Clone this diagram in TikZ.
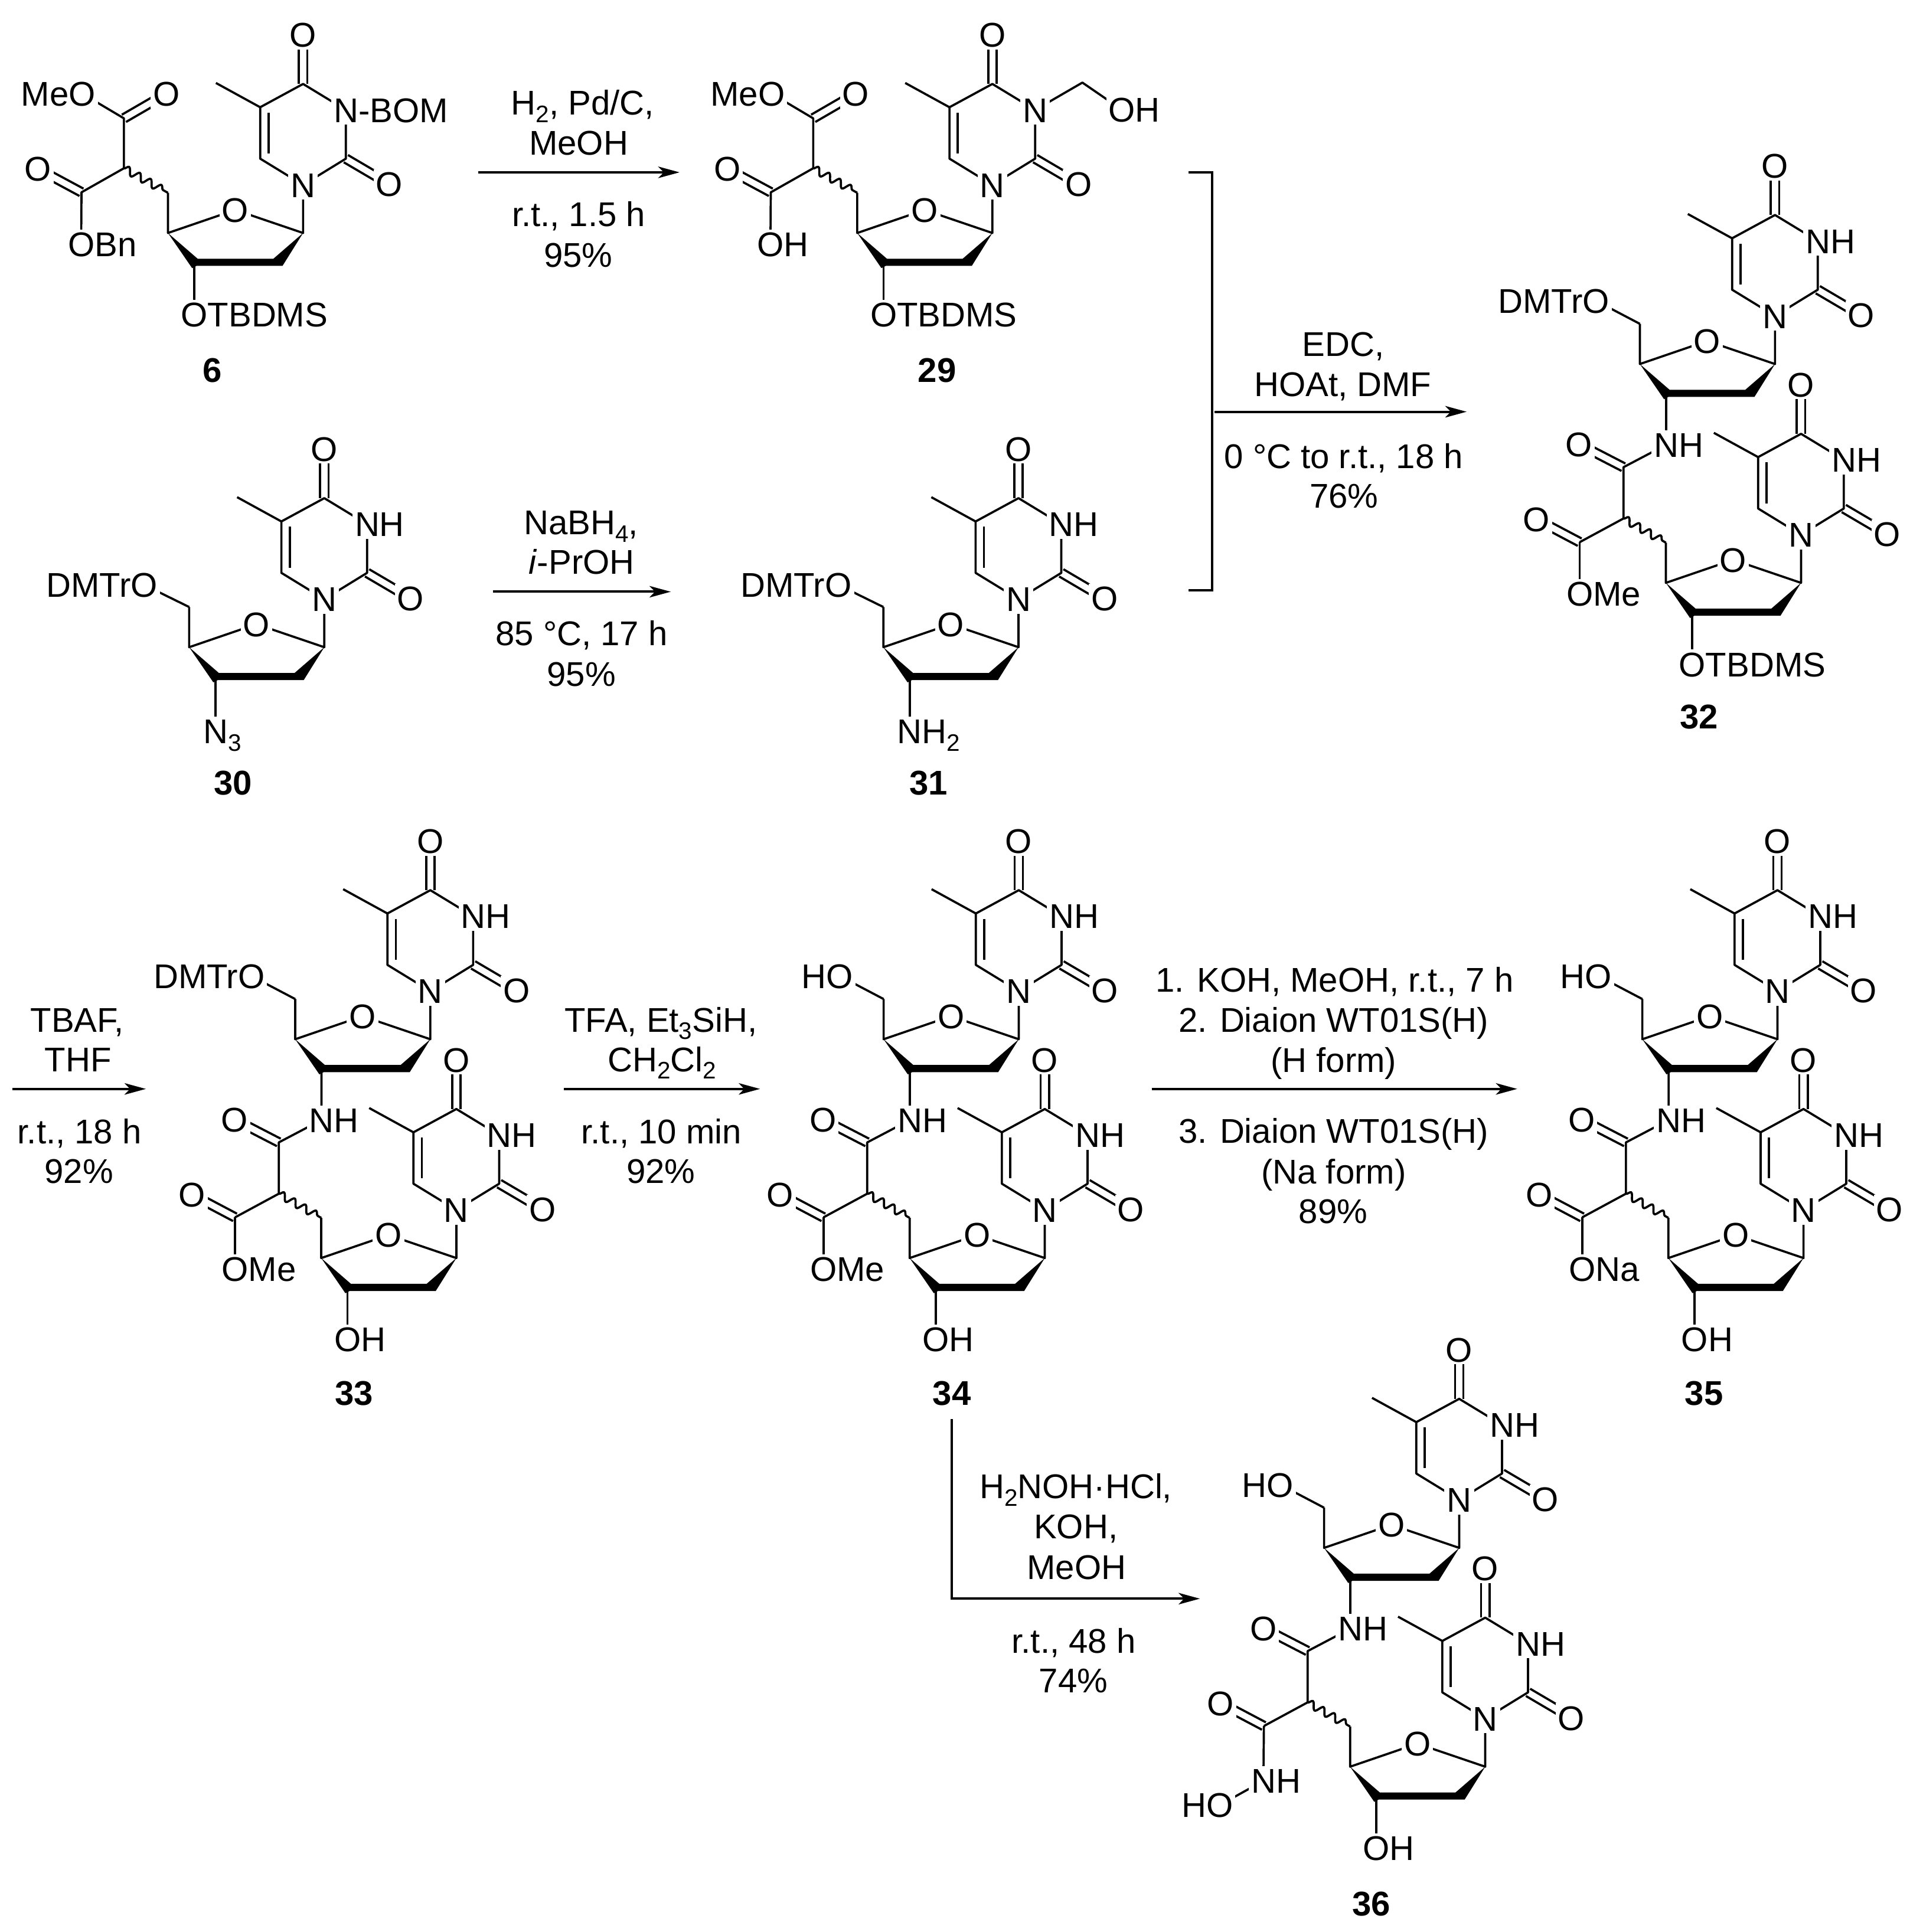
\documentclass[tikz,border=0pt]{standalone}
\usepackage{fontspec}
\setmainfont{Liberation Sans}
\usetikzlibrary{calc,arrows.meta,decorations.pathmorphing}
\newcommand{\sbs}[1]{\smash{\raisebox{-0.22em}{\fontsize{11}{13}\selectfont #1}}}
\tikzset{
 bond/.style={line width=1pt,line join=round},
 wavy/.style={line width=1pt,decorate,decoration={snake,amplitude=0.06cm,segment length=0.2cm,pre length=0pt,post length=0pt}},
 atom/.style={font=\fontsize{15.8}{19}\selectfont,fill=white,inner sep=1.1pt,text height=11.3pt,text depth=0pt},
 rx/.style={font=\fontsize{15.8}{19}\selectfont,inner sep=0pt,text height=11.3pt,text depth=0pt},
 num/.style={font=\fontsize{15.8}{19}\selectfont\bfseries,inner sep=0pt,text height=11.3pt,text depth=0pt},
 rxn/.style={line width=1.1pt,line join=miter,-{Stealth[length=0.345cm,width=0.186cm,inset=0.09cm]}},
 brk/.style={line width=1.1pt,line join=miter},
}
\newcommand{\dbl}[2]{%
 \draw[bond] ($(#1)!0.068cm!90:(#2)$) -- ($(#2)!0.068cm!-90:(#1)$);
 \draw[bond] ($(#1)!0.068cm!-90:(#2)$) -- ($(#2)!0.068cm!90:(#1)$);}
% thymidine unit, N1 at the local origin
\newcommand{\nucl}{%
 \coordinate (n1) at (0,0); \coordinate (c2) at (34.7,-21.3); \coordinate (n3) at (34.7,-60.8);
 \coordinate (c4) at (0,-81.9); \coordinate (o4) at (0,-121.8); \coordinate (c5) at (-34.8,-63);
 \coordinate (me) at (-70.7,-82.7); \coordinate (c6) at (-34.8,-21.3); \coordinate (o2) at (69.9,-0.6);
 \coordinate (c1p) at (0,39); \coordinate (orr) at (-55,20.3); \coordinate (c4p) at (-109.6,39);
 \coordinate (c5p) at (-109.6,6.4); \coordinate (c3p) at (-88.3,65);
 \draw[bond] (n1)--(c2)--(n3)--(c4)--(c5)--(c6)--(n1);
 \draw[bond] (c5)--(me);
 \draw[bond] ($(c5)+(6.8,4.3)$)--($(c6)+(6.8,-4.3)$);
 \dbl{c4}{o4}\dbl{c2}{o2}
 \draw[bond] (n1)--(c1p)--(orr)--(c4p)--(c5p);
 \fill (c4p)--(-85.5,59.9)--(-24.1,59.9)--(c1p)--(-16.7,65.7)--(-86.5,65.7)--(-90,67.5)--cycle;
 \node[atom] (lo4) at (o4) {O};
 \node[atom] (lo2) at (o2) {O};
 \node[atom] (lor) at (orr) {O};
 \node[atom] (ln1) at (n1) {N};
}
\newcommand{\nh}{\node[atom,anchor=west] (ln3) at ($(n3)+(-12.2,0)$) {NH};}
% dimer core: upper unit at origin, lower unit shifted
\newcommand{\dimer}[2]{% #1 = 5' label text, #2 = lower-unit 3' text
 \begin{scope}[name prefix=u-]\nucl\nh\end{scope}
 \begin{scope}[shift={(21.1,177.5)},name prefix=d-]\nucl\nh
  \draw[bond] (c3p)--(-88.3,105);
  \node[atom,anchor=west] (l3p) at (-101.3,105) {#2};
 \end{scope}
 \coordinate (ofive) at (-145,-12.2); \coordinate (nhc) at (-88.3,104.5); \coordinate (cam) at (-122.9,122.7);
 \coordinate (oam) at (-158.9,104.1); \coordinate (cal) at (-122.9,164.3); \coordinate (cest) at (-158.4,183.5);
 \coordinate (oest) at (-193.4,165);
 \draw[bond] (u-c5p)--(ofive);
 \draw[bond] (u-c3p)--(nhc)--(cam)--(cal)--(cest);
 \dbl{cam}{oam}\dbl{cest}{oest}
 \draw[wavy] (cal)--(d-c5p);
 \node[atom,anchor=east] (l5p) at ($(ofive)+(13,0)$) {#1};
 \node[atom] (loam) at (oam) {O};
 \node[atom] (loest) at (oest) {O};
 \node[atom,anchor=west] (lnh) at ($(nhc)+(-12.2,0)$) {NH};
}
\newcommand{\esterlab}[1]{%
 \coordinate (oo) at (-158.4,225.5);
 \draw[bond] (cest)--(oo);
 \node[atom,anchor=west] (lest) at ($(oo)+(-13,0)$) {#1};}
% malonate-bearing monomer (6, 29)
\newcommand{\malon}[1]{%
 \nucl
 \coordinate (cal) at (-145.3,-13.5); \coordinate (cup) at (-145.3,-54); \coordinate (oup) at (-110.8,-74);
 \coordinate (ome) at (-179,-74); \coordinate (clo) at (-179.7,6); \coordinate (olo) at (-215,-13);
 \coordinate (obn) at (-180,48); \coordinate (o3p) at (-88.3,105);
 \draw[bond] (c3p)--(o3p);
 \draw[bond] (ome)--(cup)--(cal)--(clo)--(obn);
 \dbl{cup}{oup}\dbl{clo}{olo}
 \draw[wavy] (cal)--(c5p);
 \node[atom] (loup) at (oup) {O};
 \node[atom] (lolo) at (olo) {O};
 \node[atom,anchor=east] (lome) at ($(ome)+(13,0)$) {MeO};
 \node[atom,anchor=west] (lobn) at ($(obn)+(-13,0)$) {#1};
 \node[atom,anchor=west] (lo3p) at ($(o3p)+(-13,0)$) {OTBDMS};
}
% azide/amine monomer (30, 31)
\newcommand{\monom}{%
 \nucl\nh
 \coordinate (ofive) at (-146,-11.5); \coordinate (x3) at (-88.3,107);
 \draw[bond] (c5p)--(ofive);
 \draw[bond] (c3p)--(x3);
 \node[atom,anchor=east] (l5p) at ($(ofive)+(13,0)$) {DMTrO};
}
\begin{document}
\begin{tikzpicture}[x=0.01996cm,y=-0.01996cm]
\useasboundingbox (0,0) rectangle (1559.1,1567.2);
% ---- molecules ----
\begin{scope}[shift={(245.8,150)},name prefix=m6-]
 \malon{OBn}
 \node[atom,anchor=west] (ln3) at ($(n3)+(-12.2,0)$) {N-BOM};
\end{scope}
\begin{scope}[shift={(804.8,150)},name prefix=m29-]
 \malon{OH}
 \coordinate (ch2) at (73,-83); \coordinate (oh) at (105,-61);
 \draw[bond] (n3)--(ch2)--(oh);
 \node[atom] (ln3) at (n3) {N};
 \node[atom,anchor=west] (loh) at ($(oh)+(-13,0)$) {OH};
\end{scope}
\begin{scope}[shift={(263,486)},name prefix=m30-]
 \monom
 \node[atom,anchor=west] (lx3) at ($(x3)+(-12.2,0)$) {N\sbs{3}};
\end{scope}
\begin{scope}[shift={(826,486)},name prefix=m31-]
 \monom
 \node[atom,anchor=west] (lx3) at ($(x3)+(-12.2,0)$) {NH\sbs{2}};
\end{scope}
\begin{scope}[shift={(1439.5,256.3)},name prefix=m32-]
 \dimer{DMTrO}{OTBDMS}\esterlab{OMe}
\end{scope}
\begin{scope}[shift={(349,804)},name prefix=m33-]
 \dimer{DMTrO}{OH}\esterlab{OMe}
\end{scope}
\begin{scope}[shift={(826.2,804)},name prefix=m34-]
 \dimer{HO}{OH}\esterlab{OMe}
\end{scope}
\begin{scope}[shift={(1441.5,804)},name prefix=m35-]
 \dimer{HO}{OH}\esterlab{ONa}
\end{scope}
\begin{scope}[shift={(1183.4,1216.6)},name prefix=m36-]
 \dimer{HO}{OH}
 \coordinate (nh2) at (-158.8,228); \coordinate (ho) at (-194.2,247.6);
 \draw[bond] (cest)--(nh2)--(ho);
 \node[atom,anchor=west] (lnh2) at ($(nh2)+(-12.2,0)$) {NH};
 \node[atom,anchor=east] (lho) at ($(ho)+(13,0)$) {HO};
\end{scope}
% ---- numbers ----
\node[num] (n6) at (172,300) {6};
\node[num] (n29) at (760,300) {29};
\node[num] (n30) at (189,635) {30};
\node[num] (n31) at (753,635) {31};
\node[num] (n32) at (1378,581) {32};
\node[num] (n33) at (287,1130) {33};
\node[num] (n34) at (772,1130) {34};
\node[num] (n35) at (1382,1130) {35};
\node[num] (n36) at (1112,1544) {36};
% ---- arrows ----
\coordinate (a1s) at (387.9,139.8); \coordinate (a1e) at (551.1,139.8);
\coordinate (a2s) at (399.8,480); \coordinate (a2e) at (544,480);
\coordinate (bt) at (964,139.8); \coordinate (btc) at (983.2,139.8); \coordinate (bbc) at (983.2,478.8); \coordinate (bb) at (964,478.8);
\coordinate (a3s) at (984.8,334); \coordinate (a3e) at (1189.4,334);
\coordinate (a4s) at (10,883.3); \coordinate (a4e) at (118.3,883.3);
\coordinate (a5s) at (457.3,883.3); \coordinate (a5e) at (616.4,883.3);
\coordinate (a6s) at (934,883.3); \coordinate (a6e) at (1230.4,883.3);
\coordinate (a7s) at (771.7,1151); \coordinate (a7c) at (771.7,1296.8); \coordinate (a7e) at (973.1,1296.8);
\draw[rxn] (a1s)--(a1e);
\draw[rxn] (a2s)--(a2e);
\draw[brk] (bt)--(btc)--(bbc)--(bb);
\draw[rxn] (a3s)--(a3e);
\draw[rxn] (a4s)--(a4e);
\draw[rxn] (a5s)--(a5e);
\draw[rxn] (a6s)--(a6e);
\draw[rxn] (a7s)--(a7c)--(a7e);
% ---- reaction texts ----
\node[rx] (t1a) at (472.4,83.2) {H\sbs{2}, Pd/C,};
\node[rx] (t1b) at (469.3,115.7) {MeOH};
\node[rx] (t1c) at (469.3,173.8) {r.t., 1.5 h};
\node[rx] (t1d) at (468.9,206.9) {95\%};
\node[rx] (t2a) at (471.3,423.5) {NaBH\sbs{4},};
\node[rx] (t2b) at (471.7,455.9) {\textit{i}-PrOH};
\node[rx] (t2c) at (471.7,513.8) {85 °C, 17 h};
\node[rx] (t2d) at (471.5,546.7) {95\%};
\node[rx] (t3a) at (1089.4,278.8) {EDC,};
\node[rx] (t3b) at (1089,311.6) {HOAt, DMF};
\node[rx] (t3c) at (1089.7,369.8) {0 °C to r.t., 18 h};
\node[rx] (t3d) at (1089.9,402.2) {76\%};
\node[rx] (t4a) at (62.6,827.1) {TBAF,};
\node[rx] (t4b) at (63.4,859.2) {THF};
\node[rx] (t4c) at (64.5,917.8) {r.t., 18 h};
\node[rx] (t4d) at (64,949.7) {92\%};
\node[rx] (t5a) at (535.9,827.1) {TFA, Et\sbs{3}SiH,};
\node[rx] (t5b) at (536.9,859.2) {CH\sbs{2}Cl\sbs{2}};
\node[rx] (t5c) at (536.4,917.8) {r.t., 10 min};
\node[rx] (t5d) at (535.9,949.7) {92\%};
\node[rx] (t6a) at (1082.3,794.9) {1. KOH, MeOH, r.t., 7 h};
\node[rx] (t6b) at (1081.5,827.4) {2. Diaion WT01S(H)};
\node[rx] (t6c) at (1081.6,860) {(H form)};
\node[rx] (t6d) at (1081.5,917.4) {3. Diaion WT01S(H)};
\node[rx] (t6e) at (1081.6,950.3) {(Na form)};
\node[rx] (t6f) at (1081.2,982.6) {89\%};
\node[rx] (t7a) at (872.5,1205.6) {H\sbs{2}NOH·HCl,};
\node[rx] (t7b) at (872.5,1238.3) {KOH,};
\node[rx] (t7c) at (873.1,1270.9) {MeOH};
\node[rx] (t7d) at (870.8,1331) {r.t., 48 h};
\node[rx] (t7e) at (870.5,1363) {74\%};
\end{tikzpicture}
\end{document}
